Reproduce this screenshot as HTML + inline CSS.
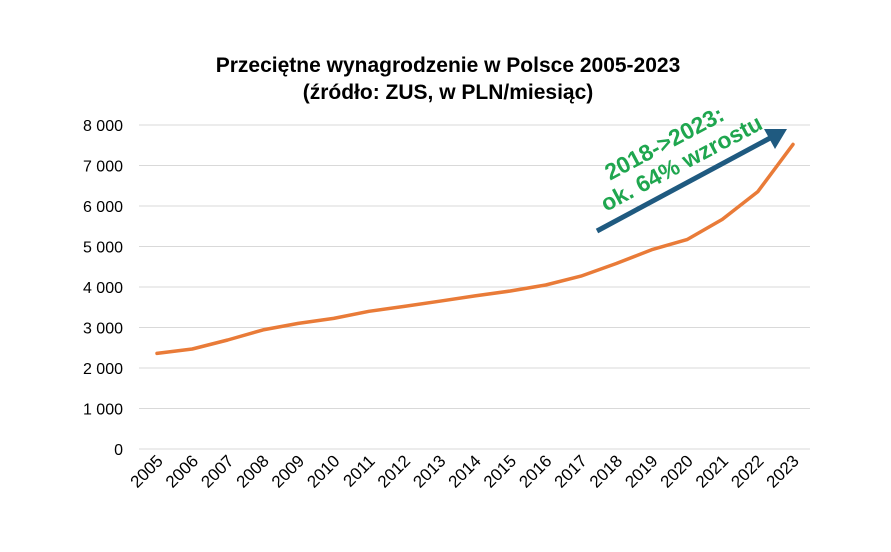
<!DOCTYPE html>
<html><head><meta charset="utf-8"><style>body{margin:0;background:#fff}svg{display:block}</style></head><body>
<svg width="891" height="552" xmlns="http://www.w3.org/2000/svg" font-family="Liberation Sans, sans-serif">
<rect width="891" height="552" fill="#fff"/>
<text x="448" y="72" text-anchor="middle" font-size="21" font-weight="bold" fill="#000">Przeciętne wynagrodzenie w Polsce 2005-2023</text>
<text x="448" y="99" text-anchor="middle" font-size="21" font-weight="bold" fill="#000">(źródło: ZUS, w PLN/miesiąc)</text>
<g stroke="#d9d9d9" stroke-width="1">
<line x1="139" x2="810" y1="125" y2="125"/><line x1="139" x2="810" y1="165.5" y2="165.5"/>
<line x1="139" x2="810" y1="206" y2="206"/><line x1="139" x2="810" y1="246.5" y2="246.5"/>
<line x1="139" x2="810" y1="287" y2="287"/><line x1="139" x2="810" y1="327.5" y2="327.5"/>
<line x1="139" x2="810" y1="368" y2="368"/><line x1="139" x2="810" y1="408.5" y2="408.5"/>
<line x1="139" x2="810" y1="449" y2="449"/>
</g>
<g font-size="16" fill="#000" text-anchor="end">
<text x="123" y="131">8 000</text><text x="123" y="171.5">7 000</text><text x="123" y="212">6 000</text>
<text x="123" y="252.5">5 000</text><text x="123" y="293">4 000</text><text x="123" y="333.5">3 000</text>
<text x="123" y="374">2 000</text><text x="123" y="414.5">1 000</text><text x="123" y="455">0</text>
</g>
<g font-size="17" fill="#000" text-anchor="end">
<text transform="translate(164,462) rotate(-45)">2005</text>
<text transform="translate(199.3,462) rotate(-45)">2006</text>
<text transform="translate(234.7,462) rotate(-45)">2007</text>
<text transform="translate(270,462) rotate(-45)">2008</text>
<text transform="translate(305.3,462) rotate(-45)">2009</text>
<text transform="translate(340.7,462) rotate(-45)">2010</text>
<text transform="translate(376,462) rotate(-45)">2011</text>
<text transform="translate(411.3,462) rotate(-45)">2012</text>
<text transform="translate(446.7,462) rotate(-45)">2013</text>
<text transform="translate(482,462) rotate(-45)">2014</text>
<text transform="translate(517.3,462) rotate(-45)">2015</text>
<text transform="translate(552.7,462) rotate(-45)">2016</text>
<text transform="translate(588,462) rotate(-45)">2017</text>
<text transform="translate(623.3,462) rotate(-45)">2018</text>
<text transform="translate(658.7,462) rotate(-45)">2019</text>
<text transform="translate(694,462) rotate(-45)">2020</text>
<text transform="translate(729.3,462) rotate(-45)">2021</text>
<text transform="translate(764.7,462) rotate(-45)">2022</text>
<text transform="translate(800,462) rotate(-45)">2023</text>
</g>
<polyline fill="none" stroke="#e97b38" stroke-width="3.5" stroke-linejoin="round" stroke-linecap="round"
points="157,353.4 192.3,349 227.7,340 263,329.9 298.3,323.4 333.7,318.4 369,311.3 404.3,306.4 439.7,301.2 475,295.9 510.3,291 545.7,285 581,276.1 616.3,263.5 651.7,249.7 687,239.6 722.3,219.4 757.7,191.8 793,144.4"/>
<line x1="597" y1="231" x2="772" y2="137" stroke="#1f5a80" stroke-width="5"/>
<polygon points="787,129 764,129 775,149" fill="#1f5a80"/>
<g font-size="23" font-weight="bold" fill="#1fa64f" text-anchor="middle">
<text transform="translate(668,150) rotate(-28)">2018-&gt;2023:</text>
<text transform="translate(685,170) rotate(-28)">ok. 64% wzrostu</text>
</g>
</svg>
</body></html>
